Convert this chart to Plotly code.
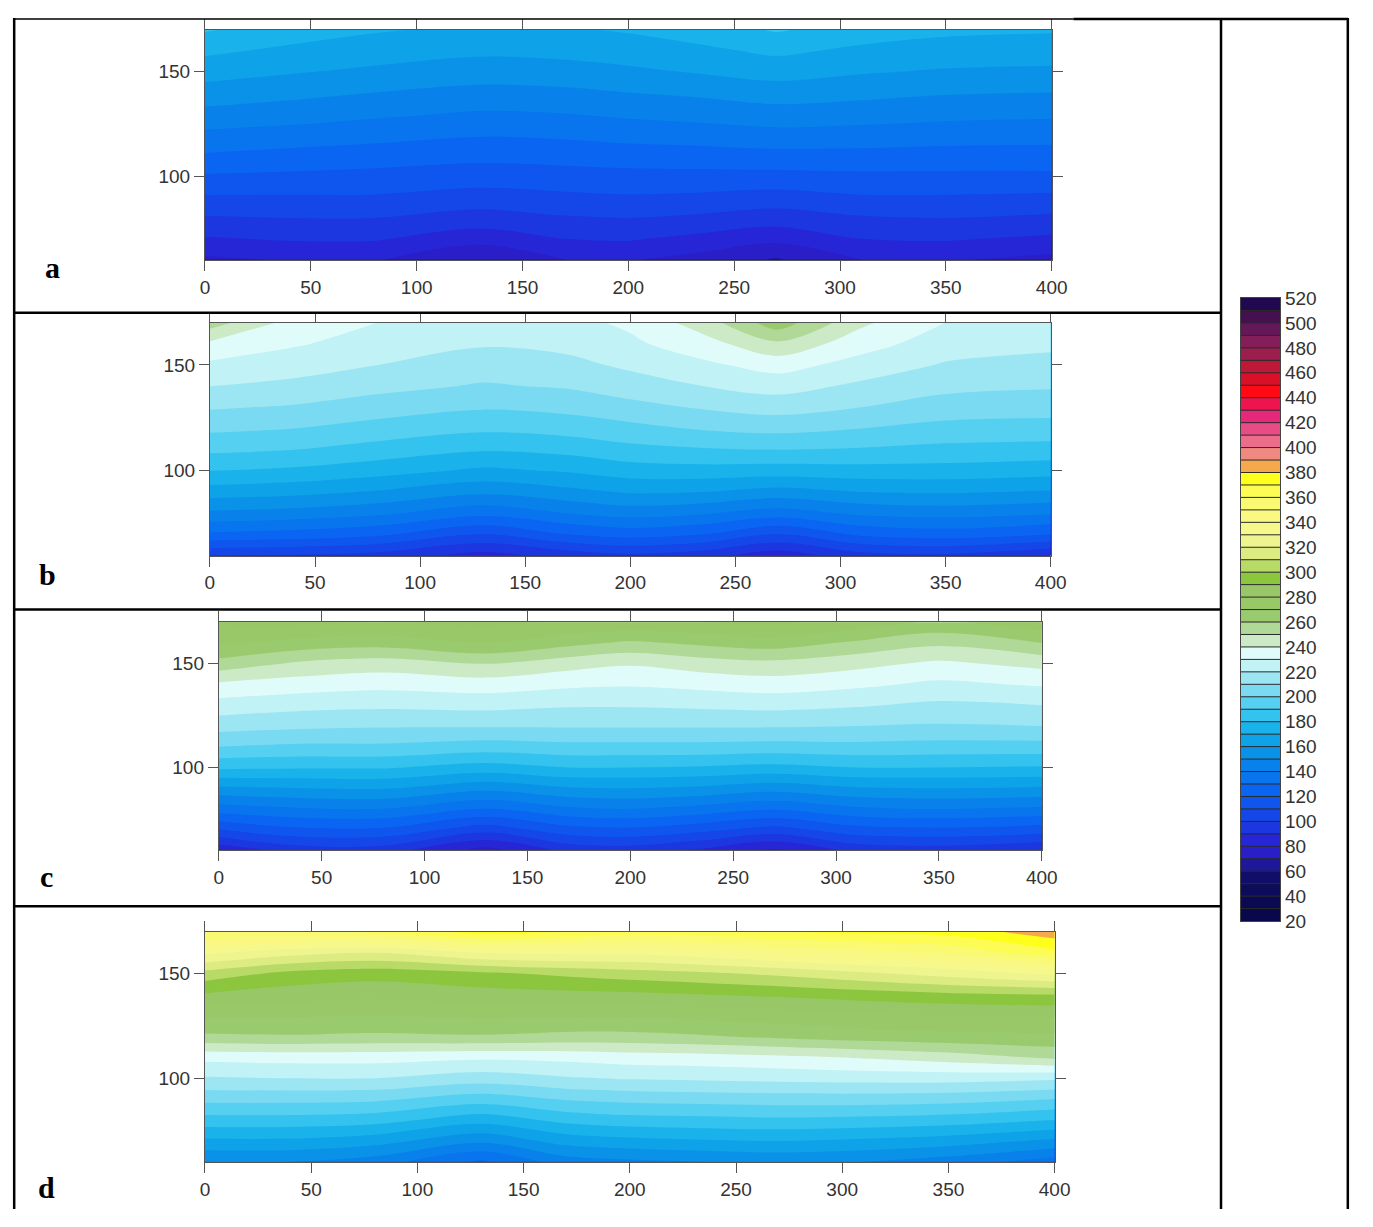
import plotly.graph_objects as go

# page body has an 8px margin, so the figure is sized to fit the 1373x1227 window
W, H = 1357, 1211
OFF = 8

# ---------------- data ----------------
X_COLS = [0, 40, 80, 130, 170, 200, 235, 270, 310, 350, 400]
Y_ROWS = [60, 70, 80, 90, 100, 110, 120, 130, 140, 150, 160, 170]

# rows listed from y=60 (bottom) to y=170 (top)
Z_A = [
    [78, 81, 81, 70, 80, 81, 76, 69, 80, 81, 77],
    [89, 91, 91, 84, 90, 91, 87, 83, 90, 91, 88],
    [99, 100, 100, 96, 99, 100, 98, 95, 99, 100, 98],
    [109, 109, 109, 106, 108, 109, 108, 106, 109, 109, 108],
    [119, 118, 117, 115, 116, 117, 117, 117, 118, 118, 118],
    [129, 127, 125, 123, 124, 125, 126, 127, 127, 126, 126],
    [138, 136, 134, 131, 132, 134, 135, 137, 136, 135, 134],
    [147, 145, 142, 139, 140, 142, 144, 146, 145, 143, 142],
    [156, 153, 150, 147, 148, 150, 152, 155, 153, 151, 150],
    [164, 161, 158, 155, 156, 158, 161, 164, 161, 159, 158],
    [172, 168, 165, 162, 163, 165, 168, 172, 168, 166, 165],
    [181, 175, 171, 168, 169, 171, 175, 181, 175, 172, 171],
]

Z_B = [
    [100, 99, 96, 86, 94, 98, 94, 84, 96, 98, 90],
    [128, 126, 122, 110, 120, 124, 120, 110, 122, 125, 120],
    [148, 146, 142, 133, 140, 144, 141, 135, 142, 144, 141],
    [165, 163, 159, 152, 157, 161, 160, 156, 160, 161, 159],
    [180, 178, 174, 168, 171, 175, 176, 175, 176, 176, 174],
    [192, 190, 186, 181, 183, 187, 189, 190, 189, 187, 186],
    [202, 200, 196, 192, 194, 197, 201, 203, 200, 197, 196],
    [211, 209, 205, 201, 203, 207, 211, 214, 210, 205, 204],
    [220, 217, 213, 209, 211, 215, 220, 224, 218, 213, 211],
    [228, 225, 220, 215, 217, 222, 228, 234, 226, 219, 217],
    [238, 231, 226, 221, 223, 228, 236, 248, 234, 225, 222],
    [255, 236, 230, 225, 227, 232, 245, 266, 242, 230, 226],
]

Z_C = [
    [82, 95, 95, 76, 93, 95, 88, 78, 93, 95, 90],
    [110, 118, 118, 104, 116, 118, 113, 106, 116, 118, 115],
    [135, 139, 140, 130, 138, 140, 136, 131, 138, 140, 138],
    [158, 160, 161, 153, 159, 160, 158, 154, 159, 160, 159],
    [182, 181, 181, 176, 180, 180, 179, 177, 180, 180, 179],
    [200, 198, 198, 195, 197, 197, 197, 196, 197, 196, 196],
    [214, 212, 211, 211, 211, 211, 211, 211, 210, 209, 210],
    [226, 223, 222, 223, 221, 221, 222, 223, 221, 218, 220],
    [238, 235, 233, 235, 232, 231, 233, 235, 232, 228, 231],
    [256, 248, 245, 250, 244, 241, 245, 247, 243, 238, 243],
    [272, 266, 264, 270, 263, 258, 262, 265, 258, 252, 260],
    [285, 282, 280, 282, 279, 278, 280, 282, 276, 268, 276],
]

Z_D = [
    [150, 150, 145, 128, 145, 148, 150, 152, 150, 145, 135],
    [168, 168, 164, 152, 164, 167, 169, 170, 168, 165, 158],
    [186, 186, 184, 174, 183, 186, 187, 188, 187, 185, 180],
    [203, 203, 202, 195, 201, 203, 204, 205, 205, 204, 200],
    [219, 220, 220, 215, 219, 221, 222, 223, 224, 224, 222],
    [233, 234, 234, 232, 233, 235, 236, 238, 241, 245, 252],
    [258, 259, 258, 259, 257, 257, 259, 262, 265, 267, 268],
    [272, 271, 270, 272, 271, 271, 273, 275, 278, 280, 281],
    [289, 285, 283, 286, 287, 288, 290, 292, 295, 298, 300],
    [306, 297, 294, 298, 302, 305, 308, 312, 318, 324, 332],
    [332, 324, 320, 330, 332, 332, 336, 342, 347, 352, 367],
    [360, 358, 362, 374, 370, 364, 366, 370, 372, 374, 386],
]

PANEL_DATA = [Z_A, Z_B, Z_C, Z_D]
PANEL_LABELS = ["a", "b", "c", "d"]

X_TICKS = [0, 50, 100, 150, 200, 250, 300, 350, 400]
Y_TICKS = [100, 150]

LEVEL_START, LEVEL_END, LEVEL_SIZE = 20, 520, 10
CB_TICKS = [20, 40, 60, 80, 100, 120, 140, 160, 180, 200, 220, 240, 260,
            280, 300, 320, 340, 360, 380, 400, 420, 440, 460, 480, 500, 520]

# one colour per 10-unit class, from 20-30 up to 510-520
BAND_COLORS = [
    "#08084a", "#0a0a52", "#0c0c5a", "#100e68", "#1c1898", "#2a1ec8",
    "#2626d6", "#1c36e0", "#1446e8", "#0e56ee", "#0a66f2", "#0874ee",
    "#0882ea", "#0a92e8", "#0ea2e8", "#1ab2ea", "#34c2ee", "#56d0f0",
    "#7adaf2", "#9ce6f4", "#c0f2f6", "#e0fcfa", "#cdeac6", "#b0d896",
    "#9aca6e", "#98c868", "#97c766", "#8cc63e", "#b8da66", "#dcec82",
    "#eef48e", "#f6f88c", "#f8f882", "#fafa72", "#fcfc54", "#ffff1c",
    "#f6a84c", "#f08a80", "#ec6c8c", "#e84c84", "#e6287a", "#ee1450",
    "#ff0a14", "#d81028", "#bc1838", "#9c1e4c", "#841e58", "#641858",
    "#441050", "#22084e",
]
nb = len(BAND_COLORS)
CLASS_CENTRES = [LEVEL_START + LEVEL_SIZE * (k + 0.5) for k in range(nb)]

# colour scale whose value mapping matches a filled contour with this interval
lo = LEVEL_START - LEVEL_SIZE / 2
hi = LEVEL_END + LEVEL_SIZE / 2
CS = [[0.0, BAND_COLORS[0]]]
for c, col in zip(CLASS_CENTRES, BAND_COLORS):
    CS.append([(c - lo) / (hi - lo), col])
CS.append([1.0, BAND_COLORS[-1]])

CONTOURS = dict(start=LEVEL_START, end=LEVEL_END, size=LEVEL_SIZE, coloring="fill")


def px(p):
    return (p - OFF) / W


def py(p):
    return 1 - (p - OFF) / H


# ---------------- figure ----------------
fig = go.Figure()

PANEL_PX = [(203, 1063, 20, 254), (208, 1062, 318, 555),
            (217, 1053, 623, 855), (203, 1066, 938, 1172)]
LABEL_PX = [(48, 262), (43, 574), (42, 882), (42, 1198)]

TICKFONT = dict(family="Liberation Sans, Arial, sans-serif", size=19, color="#333333")

layout_axes = {}
for i, (z, (x0, x1, y0, y1)) in enumerate(zip(PANEL_DATA, PANEL_PX), start=1):
    fig.add_trace(go.Contour(
        x=X_COLS, y=Y_ROWS, z=z,
        colorscale=CS, autocontour=False,
        contours=dict(CONTOURS, showlines=False),
        line=dict(width=0, smoothing=1.0),
        showscale=False, hoverinfo="skip",
        xaxis=f"x{i}", yaxis=f"y{i}",
    ))
    common = dict(ticks="outside", ticklen=10, tickwidth=1, tickcolor="#555555",
                  showline=True, linecolor="#555555", linewidth=1, mirror="ticks",
                  showgrid=False, zeroline=False, tickfont=TICKFONT)
    layout_axes[f"xaxis{i}"] = dict(common, domain=[px(x0), px(x1)], range=[0, 400],
                                    tickvals=X_TICKS, anchor=f"y{i}")
    layout_axes[f"yaxis{i}"] = dict(common, domain=[py(y1), py(y0)], range=[60, 170],
                                    tickvals=Y_TICKS, anchor=f"x{i}")

# colour bar drawn as its own filled-contour strip (10-unit classes with outlines)
CB_Y = [LEVEL_START] + CLASS_CENTRES + [LEVEL_END]
CB_Z = [LEVEL_START + 0.5] + CLASS_CENTRES + [LEVEL_END - 0.5]
fig.add_trace(go.Contour(
    x=[0, 1], y=CB_Y, z=[[v, v] for v in CB_Z],
    colorscale=CS, autocontour=False,
    contours=dict(CONTOURS, showlines=True),
    line=dict(width=1, color="#2a2a2a", smoothing=0),
    showscale=False, hoverinfo="skip",
    xaxis="x5", yaxis="y5",
))
layout_axes["xaxis5"] = dict(domain=[px(1255), px(1295)], range=[0, 1], anchor="y5",
                             showline=True, linecolor="#444444", linewidth=1, mirror=True,
                             showticklabels=False, ticks="", showgrid=False, zeroline=False)
layout_axes["yaxis5"] = dict(domain=[py(927), py(293)], range=[LEVEL_START, LEVEL_END],
                             anchor="x5", side="right", tickvals=CB_TICKS, ticks="",
                             showline=True, linecolor="#444444", linewidth=1, mirror=True,
                             showgrid=False, zeroline=False, tickfont=TICKFONT)

# table frame
shapes = []


def hline(y, xa, xb, w=2.5):
    shapes.append(dict(type="line", xref="paper", yref="paper",
                       x0=px(xa), x1=px(xb), y0=py(y), y1=py(y),
                       line=dict(color="black", width=w)))


def vline(x, ya, yb, w=2.5):
    shapes.append(dict(type="line", xref="paper", yref="paper",
                       x0=px(x), x1=px(x), y0=py(ya), y1=py(yb),
                       line=dict(color="black", width=w)))


hline(9, 9, 1085, 1.5)
hline(9, 1085, 1364, 2.5)
for yy in (308, 610, 912):
    hline(yy, 9, 1235)
vline(9.2, 8, 1220)
vline(1235, 8, 1220)
vline(1363.8, 8, 1220)

annotations = []
for lab, (lx, ly) in zip(PANEL_LABELS, LABEL_PX):
    annotations.append(dict(text=f"<b>{lab}</b>", x=px(lx), y=py(ly),
                            xref="paper", yref="paper", showarrow=False,
                            xanchor="center", yanchor="middle",
                            font=dict(family="Liberation Serif, Times New Roman, serif",
                                      size=30, color="black")))

fig.update_layout(
    width=W, height=H, autosize=False,
    margin=dict(l=0, r=0, t=0, b=0),
    paper_bgcolor="white", plot_bgcolor="white",
    showlegend=False,
    shapes=shapes, annotations=annotations,
    **layout_axes,
)

fig.write_html("out.html")
